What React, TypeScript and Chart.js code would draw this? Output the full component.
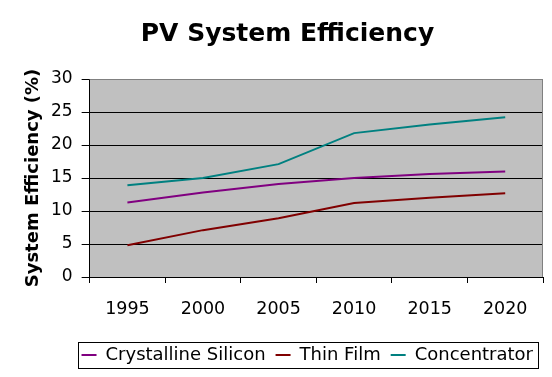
import React, { useEffect, useRef } from "react";
import { Chart, registerables } from "chart.js";

Chart.register(...registerables);

const years = ["1995", "2000", "2005", "2010", "2015", "2020"];
const crystallineSilicon = [11.3, 12.8, 14.1, 15.0, 15.6, 16.0];
const thinFilm = [4.8, 7.1, 8.9, 11.2, 12.0, 12.7];
const concentrator = [13.9, 15.0, 17.1, 21.8, 23.1, 24.2];

const FONT = "'DejaVu Sans', Verdana, sans-serif";

const plotBg = {
  id: "plotBg",
  afterLayout(chart: any) {
    const t = chart.titleBlock;
    if (t) {
      t.left += 4;
      t.right += 4;
    }
  },
  beforeDraw(chart: any) {
    const { ctx, chartArea: a } = chart;
    ctx.save();
    ctx.fillStyle = "#C0C0C0";
    ctx.fillRect(a.left, a.top, a.right - a.left, a.bottom - a.top);
    ctx.restore();
  },
  afterDatasetsDraw(chart: any) {
    const { ctx, chartArea: a } = chart;
    ctx.save();
    ctx.strokeStyle = "#808080";
    ctx.lineWidth = 1;
    ctx.beginPath();
    ctx.moveTo(a.left, a.top + 0.5);
    ctx.lineTo(a.right - 0.5, a.top + 0.5);
    ctx.lineTo(a.right - 0.5, a.bottom);
    ctx.stroke();
    ctx.restore();
  },
  afterDraw(chart: any) {
    const lg = chart.legend;
    if (!lg || !lg.legendHitBoxes || !lg.legendHitBoxes.length) return;
    const hb = lg.legendHitBoxes;
    const left = Math.min(...hb.map((h: any) => h.left)) - 4;
    const right = Math.max(...hb.map((h: any) => h.left + h.width)) + 5;
    const top = Math.min(...hb.map((h: any) => h.top)) - 4;
    const bottom = Math.max(...hb.map((h: any) => h.top + h.height)) + 4;
    const { ctx } = chart;
    ctx.save();
    ctx.strokeStyle = "#000";
    ctx.lineWidth = 1;
    ctx.strokeRect(Math.round(left) + 0.5, Math.round(top) + 0.5, Math.round(right - left), Math.round(bottom - top));
    ctx.restore();
  },
};

export default function App() {
  const ref = useRef<HTMLCanvasElement>(null);
  useEffect(() => {
    if (!ref.current) return;
    const mk = (label: string, data: number[], color: string) => ({
      label,
      data,
      borderColor: color,
      backgroundColor: color,
      borderWidth: 2,
      pointRadius: 0,
      tension: 0,
      fill: false,
    });
    const chart = new Chart(ref.current, {
      type: "line",
      data: {
        labels: years,
        datasets: [
          mk("Crystalline Silicon", crystallineSilicon, "#800080"),
          mk("Thin Film", thinFilm, "#800000"),
          mk("Concentrator", concentrator, "#008080"),
        ],
      },
      plugins: [plotBg],
      options: {
        responsive: false,
        animation: false,
        layout: { padding: { left: 24, right: 9, top: 0, bottom: 3 } },
        plugins: {
          title: {
            display: true,
            text: "PV System Efficiency",
            color: "#000",
            font: { family: FONT, size: 25, weight: "bold" },
            padding: { top: 19, bottom: 30 },
          },
          legend: {
            position: "bottom",
            align: "end",
            labels: {
              color: "#000",
              font: { family: FONT, size: 18 },
              boxWidth: 15,
              boxHeight: 2,
              padding: 10,
              generateLabels: (chart: any) =>
                chart.data.datasets.map((d: any, i: number) => ({
                  text: d.label,
                  fillStyle: d.borderColor,
                  strokeStyle: d.borderColor,
                  lineWidth: 0,
                  datasetIndex: i,
                  fontColor: "#000",
                })),
            },
          },
          tooltip: { enabled: false },
        },
        scales: {
          x: {
            type: "category",
            offset: true,
            grid: {
              offset: true,
              drawOnChartArea: false,
              drawTicks: true,
              tickLength: 6,
              tickColor: "#000",
              color: "#000",
            },
            border: { color: "#000", width: 1 },
            ticks: {
              color: "#000",
              font: { family: FONT, size: 17.5 },
              padding: 16,
              maxRotation: 0,
            },
          },
          y: {
            min: 0,
            max: 30,
            ticks: {
              stepSize: 5,
              color: "#000",
              font: { family: FONT, size: 17 },
              padding: 9,
            },
            grid: {
              color: (c: any) => (c.tick && c.tick.value === 30 ? "#808080" : "#000"),
              tickColor: "#000",
              tickLength: 8,
              lineWidth: 1,
            },
            border: { color: "#000", width: 1 },
            title: {
              display: true,
              text: "System Efficiency (%)",
              color: "#000",
              font: { family: FONT, size: 18, weight: "bold", lineHeight: 1 },
              padding: { top: 0, bottom: 0 },
            },
          },
        },
      },
    });
    return () => chart.destroy();
  }, []);
  return (
    <div style={{ position: "fixed", left: 0, top: 0, width: 552, height: 377, background: "#fff" }}>
      <canvas ref={ref} width={552} height={377} style={{ display: "block" }} />
    </div>
  );
}
